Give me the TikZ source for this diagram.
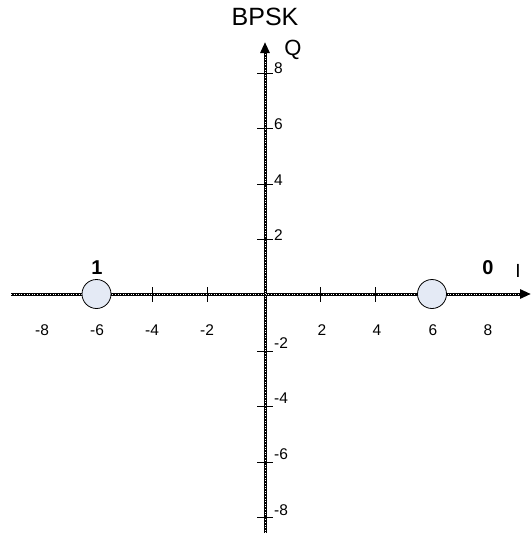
\documentclass[tikz,border=0pt]{standalone}
\usepackage{fontspec}
\setmainfont{Liberation Sans}
\usetikzlibrary{arrows.meta}
\begin{document}
\begin{tikzpicture}[x=1pt,y=-1pt,
  axisline/.style={line width=3pt,-{Triangle[length=11pt,width=9pt]}},
  axisholes/.style={white,line width=0.5pt,dash pattern=on 0.6pt off 2pt},
  tickmark/.style={line width=0.9pt},
  ticklbl/.style={font=\fontsize{15.5}{15.5}\selectfont,inner sep=0pt},
  symbolpt/.style={circle,draw,line width=0.8pt,fill={rgb,255:red,228;green,234;blue,245},minimum size=29pt,inner sep=0pt},
  bitlbl/.style={font=\fontsize{20}{20}\selectfont\bfseries,inner sep=0pt}]
\useasboundingbox (0,0) rectangle (531,533);
\coordinate (L) at (11,294);
\coordinate (R) at (531,294);
\coordinate (B) at (265,533);
\coordinate (T) at (265,42);
\draw[axisline] (L) -- (R);
\draw[axisline] (B) -- (T);
\draw[axisholes] (L) -- (520,294);
\draw[axisholes] (B) -- (265,53);
% x ticks
\foreach \v/\px in {-4/152,-2/207,2/320,4/375}
  \draw[tickmark] (\px,287) -- (\px,302);
\foreach \v/\px in {-8/42,-6/97,-4/152,-2/207,2/322,4/377,6/433,8/488}
  \node[ticklbl] (xl\px) at (\px,330) {\v};
% y ticks
\foreach \py in {73,128,184,239,351,406,462,517}
  \draw[tickmark] (257,\py) -- (273,\py);
\foreach \v/\py in {8/68,6/124,4/180,2/235,-2/343,-4/398,-6/454,-8/510}
  \node[ticklbl,anchor=west] (yl\py) at (274,\py) {\v};
% symbols
\node[symbolpt] (s1) at (96.5,294) {};
\node[symbolpt] (s0) at (432,294) {};
\node[bitlbl] (b1) at (97,268) {1};
\node[bitlbl] (b0) at (488,268) {0};
\node[font=\fontsize{19}{19}\selectfont,inner sep=0pt] (I) at (518,271) {I};
\node[font=\fontsize{22}{22}\selectfont,inner sep=0pt] (Q) at (293,50) {Q};
\node[font=\fontsize{25}{25}\selectfont,inner sep=0pt] (title) at (265,17) {BPSK};
\end{tikzpicture}
\end{document}
